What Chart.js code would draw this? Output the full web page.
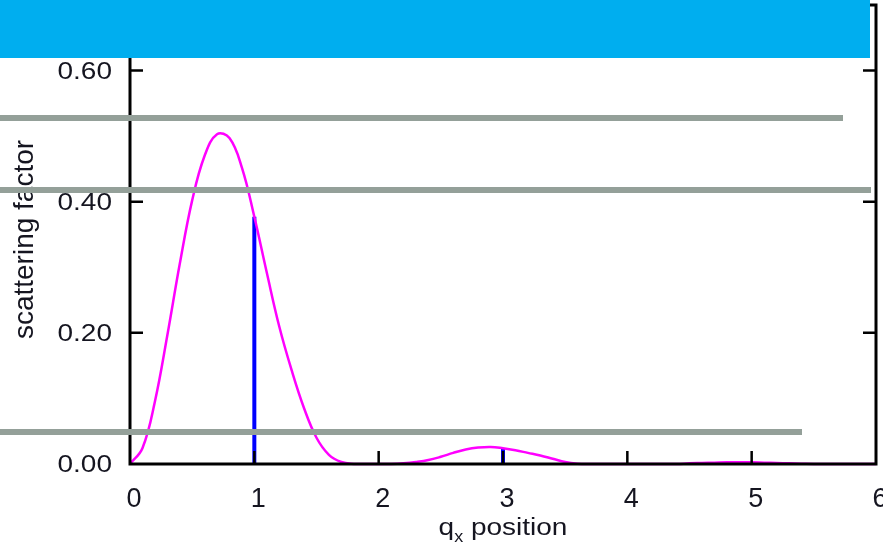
<!DOCTYPE html>
<html>
<head>
<meta charset="utf-8">
<script src="https://cdn.jsdelivr.net/npm/chart.js@4.4.1/dist/chart.umd.min.js"></script>
<style>
  body { margin: 0; background: #fff; }
  #wrap { position: relative; width: 893px; height: 548px; overflow: hidden; }
  .cover { position: absolute; }
</style>
</head>
<body>
<div id="wrap">
  <canvas id="myChart" width="893" height="548"></canvas>
  <!-- grey bars and the blue banner lying over the plot -->
  <div class="cover" style="left:0;top:115px;width:843px;height:6px;background:#94a099;"></div>
  <div class="cover" style="left:0;top:187px;width:871px;height:6px;background:#94a099;"></div>
  <div class="cover" style="left:0;top:429px;width:802px;height:6px;background:#94a099;"></div>
  <div class="cover" style="left:0;top:0;width:870px;height:58px;background:#00aeef;"></div>
  <div class="cover" style="left:883px;top:470px;width:10px;height:78px;background:#fff;"></div>
</div>
<script>
// scattering factor curve
const qx = [0, 0.1, 0.2, 0.3, 0.4, 0.5, 0.6, 0.7, 0.8, 0.9,
            1.0, 1.1, 1.2, 1.3, 1.4, 1.5, 1.6, 1.7, 1.8, 1.9,
            2.0, 2.1, 2.2, 2.3, 2.4, 2.5, 2.6, 2.7, 2.8, 2.9,
            3.0, 3.1, 3.2, 3.3, 3.4, 3.5, 3.6, 3.7, 3.8, 3.9,
            4.0, 4.1, 4.2, 4.3, 4.4, 4.5, 4.6, 4.7, 4.8, 4.9,
            5.0, 5.1, 5.2, 5.3, 5.4, 5.5, 5.6, 5.7, 5.8, 5.9, 6.0];
const scatter = [0.000, 0.024, 0.095, 0.196, 0.305, 0.402, 0.470, 0.503, 0.497, 0.452,
                 0.377, 0.292, 0.210, 0.143, 0.085, 0.040, 0.014, 0.003, 0.000, 0.000,
                 0.000, 0.000, 0.001, 0.003, 0.006, 0.011, 0.017, 0.022, 0.025, 0.026,
                 0.024, 0.021, 0.017, 0.013, 0.008, 0.003, 0.0005, 0.000, 0.000, 0.000,
                 0.000, 0.000, 0.000, 0.000, 0.000, 0.001, 0.0015, 0.002, 0.0025, 0.0025,
                 0.0025, 0.002, 0.0015, 0.001, 0.0005, 0.000, 0.000, 0.000, 0.000, 0.000, 0.000];

// sampled values (blue sticks)
const stickX = [1, 3];
const stickY = [0.377, 0.024];

// axis ticks
const xTickVals = [0, 1, 2, 3, 4, 5, 6];
const xTickLabels = ['0', '1', '2', '3', '4', '5', '6'];
const yTickVals = [0, 0.2, 0.4, 0.6];
const yTickLabels = ['0.00', '0.20', '0.40', '0.60'];

const FONT = '"Liberation Sans", Arial, sans-serif';
const TEXT = '#151520';

function drawText(ctx, str, x, y, size, sy, align) {
  ctx.save();
  ctx.translate(x, y);
  ctx.scale(1, sy);
  ctx.font = size + 'px ' + FONT;
  ctx.textAlign = align;
  ctx.textBaseline = 'alphabetic';
  ctx.fillText(str, 0, 0);
  ctx.restore();
}

// frame with inward ticks, labels and axis titles
const framePlugin = {
  id: 'frame',
  afterDatasetsDraw(chart) {
    const ctx = chart.ctx;
    const a = chart.chartArea;
    const xs = chart.scales.x, ys = chart.scales.y;
    ctx.save();
    ctx.strokeStyle = '#000';
    ctx.lineWidth = 3;
    ctx.strokeRect(a.left, a.top, a.right - a.left, a.bottom - a.top);

    ctx.lineWidth = 2.5;
    ctx.beginPath();
    yTickVals.forEach(v => {
      if (v === 0) return;
      const py = ys.getPixelForValue(v);
      ctx.moveTo(a.left, py); ctx.lineTo(a.left + 13, py);
      ctx.moveTo(a.right, py); ctx.lineTo(a.right - 13, py);
    });
    xTickVals.forEach(v => {
      if (v === 0 || v === 6) return;
      const px = xs.getPixelForValue(v);
      ctx.moveTo(px, a.bottom); ctx.lineTo(px, a.bottom - 13);
      ctx.moveTo(px, a.top); ctx.lineTo(px, a.top + 13);
    });
    ctx.stroke();

    ctx.fillStyle = TEXT;
    yTickVals.forEach((v, i) => {
      const py = ys.getPixelForValue(v);
      drawText(ctx, yTickLabels[i], a.left - 18, py + 8, 28, 0.88, 'right');
    });
    xTickVals.forEach((v, i) => {
      const px = xs.getPixelForValue(v);
      drawText(ctx, xTickLabels[i], px + 4, a.bottom + 43, 27, 1, 'center');
    });

    // x title: q with subscript x
    ctx.font = '28px ' + FONT;
    const wq = ctx.measureText('q').width;
    const wrest = ctx.measureText(' position').width;
    ctx.font = '18px ' + FONT;
    const wsub = ctx.measureText('x').width;
    let sx = (a.left + a.right) / 2 - (wq + wsub + wrest) / 2;
    drawText(ctx, 'q', sx, 535, 28, 0.85, 'left');
    drawText(ctx, 'x', sx + wq, 542, 18, 0.9, 'left');
    drawText(ctx, ' position', sx + wq + wsub, 535, 28, 0.85, 'left');

    // y title
    ctx.save();
    ctx.translate(33, (a.top + a.bottom) / 2 + 5);
    ctx.rotate(-Math.PI / 2);
    ctx.font = '28px ' + FONT;
    ctx.textAlign = 'center';
    ctx.textBaseline = 'alphabetic';
    ctx.fillText('scattering factor', 0, 0);
    ctx.restore();

    ctx.restore();
  }
};

const datasets = [{
  data: qx.map((q, i) => ({ x: q, y: scatter[i] })),
  borderColor: '#ff00ff',
  borderWidth: 2.5,
  pointRadius: 0,
  tension: 0.4,
  clip: 4
}];
stickX.forEach((q, i) => {
  datasets.push({
    data: [{ x: q, y: 0 }, { x: q, y: stickY[i] }],
    borderColor: '#0000ff',
    borderWidth: 4,
    pointRadius: 0,
    clip: 4
  });
});

const ctx = document.getElementById('myChart').getContext('2d');
new Chart(ctx, {
  type: 'line',
  data: { datasets: datasets },
  options: {
    responsive: false,
    animation: false,
    devicePixelRatio: 1,
    layout: { padding: { top: 5, right: 17, left: 0, bottom: 0 } },
    plugins: { legend: { display: false }, tooltip: { enabled: false } },
    scales: {
      x: {
        type: 'linear', min: 0, max: 6,
        ticks: { display: false },
        grid: { display: false, drawTicks: false },
        border: { display: false },
        afterFit(s) { s.height = 84; }
      },
      y: {
        min: 0, max: 0.7,
        ticks: { display: false },
        grid: { display: false, drawTicks: false },
        border: { display: false },
        afterFit(s) { s.width = 130; }
      }
    }
  },
  plugins: [framePlugin]
});
</script>
</body>
</html>
